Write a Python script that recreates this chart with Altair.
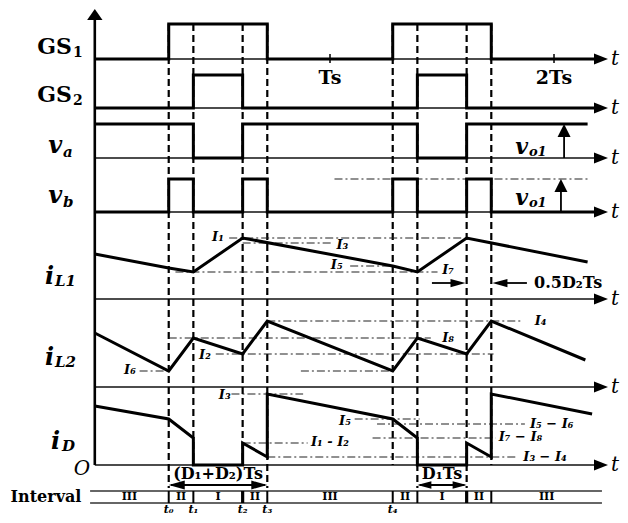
import altair as alt
import pandas as pd

# ---------------- data : time in units of Ts ----------------
T_AXIS = -0.05          # where the drawn vertical axis sits
T_END = 2.2             # end of the drawn waveforms
sw_p1 = [0.28, 0.39, 0.61, 0.72]   # t0 t1 t2 t3
sw_p2 = [1.28, 1.39, 1.61, 1.72]   # t4 ... (second period)

gs1_t = [T_AXIS, 0.28, 0.28, 0.72, 0.72, 1.28, 1.28, 1.72, 1.72, 2.2]
gs1_v = [0, 0, 1, 1, 0, 0, 1, 1, 0, 0]
gs2_t = [T_AXIS, 0.39, 0.39, 0.61, 0.61, 1.39, 1.39, 1.61, 1.61, 2.2]
gs2_v = [0, 0, 1, 1, 0, 0, 1, 1, 0, 0]
va_t = [T_AXIS, 0.39, 0.39, 0.61, 0.61, 1.39, 1.39, 1.61, 1.61, 2.15]
va_v = [1, 1, 0, 0, 1, 1, 0, 0, 1, 1]
vb_t = [T_AXIS, 0.28, 0.28, 0.39, 0.39, 0.61, 0.61, 0.72, 0.72,
        1.28, 1.28, 1.39, 1.39, 1.61, 1.61, 1.72, 1.72, 2.2]
vb_v = [0, 0, 1, 1, 0, 0, 1, 1, 0, 0, 1, 1, 0, 0, 1, 1, 0, 0]
iL1_t = [T_AXIS, 0.28, 0.39, 0.61, 1.28, 1.39, 1.61, 2.15]
iL1_v = [4.5, 3.1, 2.7, 6.1, 3.3, 2.7, 6.1, 3.7]
iL2_t = [T_AXIS, 0.28, 0.39, 0.61, 0.72, 1.28, 1.39, 1.61, 1.72, 2.14]
iL2_v = [5.4, 1.6, 4.9, 3.3, 6.6, 1.6, 4.9, 3.3, 6.6, 2.7]
iD_t = [T_AXIS, 0.28, 0.39, 0.39, 0.61, 0.61, 0.72, 0.72,
        1.28, 1.39, 1.39, 1.61, 1.61, 1.72, 1.72, 2.17]
iD_v = [5.9, 4.6, 2.7, 0, 0, 2.2, 0.8, 7.1, 4.6, 2.7, 0, 0, 2.2, 0.8, 7.1, 5.1]

# dash-dot reference levels: (panel, level, t from, t to)
levels = [
    ("vb", 1.0, 1.02, 2.16),
    ("iL1", 6.1, 0.55, 1.60), ("iL1", 5.6, 0.61, 1.01),
    ("iL1", 3.3, 1.09, 1.28), ("iL1", 2.7, 0.31, 1.48),
    ("iL2", 1.6, 0.15, 0.28), ("iL2", 1.6, 0.87, 1.28),
    ("iL2", 3.3, 0.49, 1.73), ("iL2", 4.9, 0.28, 1.45), ("iL2", 6.6, 0.72, 1.86),
    ("iD", 7.1, 0.56, 0.88), ("iD", 4.6, 1.11, 1.40), ("iD", 4.1, 1.21, 1.87),
    ("iD", 2.2, 0.61, 0.90), ("iD", 2.7, 1.19, 1.74), ("iD", 0.8, 0.72, 1.84),
]
# level labels: (panel, t, level, text)
level_labels = [
    ("iL1", 0.50, 6.2, "I₁"), ("iL1", 1.055, 5.4, "I₃"),
    ("iL1", 1.03, 3.4, "I₅"), ("iL1", 1.527, 2.9, "I₇"),
    ("iL2", 0.107, 1.7, "I₆"), ("iL2", 0.442, 3.2, "I₂"),
    ("iL2", 1.527, 4.9, "I₈"), ("iL2", 1.94, 6.6, "I₄"),
    ("iD", 0.53, 7.0, "I₃"), ("iD", 1.067, 4.4, "I₅"),
    ("iD", 1.0, 2.3, "I₁ - I₂"), ("iD", 1.99, 4.1, "I₅ − I₆"),
    ("iD", 1.85, 2.8, "I₇ − I₈"), ("iD", 1.96, 0.8, "I₃ − I₄"),
]
interval_names = ["III", "II", "I", "II", "III", "II", "I", "II", "III"]
edge_names = ["t₀", "t₁", "t₂", "t₃", "t₄"]

# ---------------- layout (diagram units, y from the top) ----------------
PANELS = {"GS1": (59, 35), "GS2": (108, 33), "va": (158, 34), "vb": (212, 33),
          "iL1": (299, 10), "iL2": (387, 10), "iD": (465, 10)}


def ypos(panel, v):
    base, unit = PANELS[panel]
    return base - unit * v


TOP = ypos("GS1", 1)
BAR_L, BAR_R = -0.071, 2.214
BAR_TOP, BAR_BOT, BAR_MID = 491, 503, 497
EDGE_Y = 515
DIM_Y, DIM_TXT_Y = 485, 474
ARROW_TIP = 2.241
T_LABEL = 2.254

xs = alt.Scale(domain=[-0.4375, 2.2946], nice=False, zero=False)
ys = alt.Scale(domain=[8, 515], reverse=True, nice=False, zero=False)

# ---------------- waveforms ----------------
wave_rows = []
for name, ts, vs in [("GS1", gs1_t, gs1_v), ("GS2", gs2_t, gs2_v), ("va", va_t, va_v),
                     ("vb", vb_t, vb_v), ("iL1", iL1_t, iL1_v), ("iL2", iL2_t, iL2_v),
                     ("iD", iD_t, iD_v)]:
    for k, (t, v) in enumerate(zip(ts, vs)):
        wave_rows.append({"id": name, "ord": k, "t": t, "y": ypos(name, v)})
waves = pd.DataFrame(wave_rows)

# ---------------- rules ----------------
rules = []


def rule(kind, t, t2, y, y2):
    rules.append({"kind": kind, "t": t, "t2": t2, "y": y, "y2": y2})


for p in PANELS:
    rule("axis", T_AXIS, T_END, ypos(p, 0), ypos(p, 0))
rule("yaxis", T_AXIS, T_AXIS, 17, ypos("iD", 0))
for i, t in enumerate(sw_p1):
    rule("dash", t, t, TOP, DIM_Y + 3 if i in (0, 3) else ypos("iD", 0))
for i, t in enumerate(sw_p2):
    rule("dash", t, t, TOP, DIM_Y + 3 if i in (1, 2) else ypos("iD", 0))
for p, v, a, b in levels:
    rule("dashdot", a, b, ypos(p, v), ypos(p, v))
for t in (1.0, 2.0):
    rule("tick", t, t, 54, 63)
rule("bar", BAR_L, BAR_R, BAR_TOP, BAR_TOP)
rule("bar", BAR_L, BAR_R, BAR_BOT, BAR_BOT)
edges = [BAR_L] + sw_p1 + sw_p2 + [BAR_R]
for i, t in enumerate(sw_p1 + sw_p2):
    rule("sep2" if i in (2, 6) else "sep", t, t, BAR_TOP, BAR_BOT)
# vo1 arrows and dimension arrows
rule("aline", 2.045, 2.045, ypos("va", 0), ypos("va", 0.8))
rule("aline", 2.031, 2.031, ypos("vb", 0), ypos("vb", 0.8))
rule("aline", 1.455, 1.57, 283, 283)
rule("aline", 1.76, 1.879, 283, 283)
rule("aline", 0.29, 0.71, DIM_Y, DIM_Y)
rule("aline", 1.40, 1.60, DIM_Y, DIM_Y)
rules = pd.DataFrame(rules)

# ---------------- arrow heads (tip at the data point) ----------------
SHAPES = {
    "right": "M0,0L-2,-0.8L-2,0.8Z",
    "left": "M0,0L2,-0.55L2,0.55Z",
    "rdim": "M0,0L-2,-0.55L-2,0.55Z",
    "up": "M0,0L-1,2L1,2Z",
    "yup": "M0,0L-1.4,2L1.4,2Z",
}
heads = [{"t": ARROW_TIP, "y": ypos(p, 0), "shape": SHAPES["right"], "size": 196} for p in PANELS]
heads += [
    {"t": T_AXIS, "y": 9, "shape": SHAPES["yup"], "size": 121},
    {"t": 2.045, "y": ypos("va", 1), "shape": SHAPES["up"], "size": 169},
    {"t": 2.031, "y": ypos("vb", 1), "shape": SHAPES["up"], "size": 169},
    {"t": 1.605, "y": 283, "shape": SHAPES["rdim"], "size": 225},
    {"t": 1.725, "y": 283, "shape": SHAPES["left"], "size": 225},
    {"t": 0.28, "y": DIM_Y, "shape": SHAPES["left"], "size": 256},
    {"t": 0.72, "y": DIM_Y, "shape": SHAPES["rdim"], "size": 256},
    {"t": 1.39, "y": DIM_Y, "shape": SHAPES["left"], "size": 196},
    {"t": 1.61, "y": DIM_Y, "shape": SHAPES["rdim"], "size": 196},
]
heads = pd.DataFrame(heads)

# ---------------- texts ----------------
texts = []


def txt(t, y, s, size, style="normal", weight="bold", align="center", baseline="middle"):
    texts.append({"t": t, "y": y, "text": s, "size": size, "style": style,
                  "weight": weight, "align": align, "baseline": baseline})


for y, sub in ((47, "1"), (95, "2")):
    txt(-0.152, y, "GS", 22, align="right")
    txt(-0.147, y + 6, sub, 14, align="left")
for y, sub in ((146, "a"), (196, "b")):
    txt(-0.196, y, "v", 24, "italic", align="right")
    txt(-0.192, y + 6, sub, 15, "italic", align="left")
for y, sub in ((277, "L1"), (358, "L2")):
    txt(-0.232, y, "i", 24, "italic", align="right")
    txt(-0.228, y + 4, sub, 15, "italic", align="left")
txt(-0.205, 442, "i", 24, "italic", align="right")
txt(-0.196, 446, "D", 15, "italic", align="left")
txt(-0.107, 469, "O", 20, "italic", "normal")
txt(1.0, 78, "Ts", 19)
txt(2.0, 78, "2Ts", 19)
for y in (147, 198):
    txt(1.884, y, "v", 22, "italic", align="right")
    txt(1.888, y + 5, "o1", 13, "italic", align="left")
for p in PANELS:
    txt(T_LABEL, ypos(p, 0), "t", 20, "italic", "normal", "left")
txt(1.911, 283, "0.5D₂Ts", 16, align="left")
txt(0.5, DIM_TXT_Y, "(D₁+D₂)Ts", 16)
txt(1.5, DIM_TXT_Y, "D₁Ts", 16)
txt(-0.268, BAR_MID, "Interval", 16)
for name, a, b in zip(interval_names, edges[:-1], edges[1:]):
    txt((a + b) / 2, BAR_MID, name, 11)
for name, t in zip(edge_names, sw_p1 + sw_p2[:1]):
    txt(t, EDGE_Y, name, 11, "italic", baseline="bottom")
for p, t, v, s in level_labels:
    txt(t, ypos(p, v), s, 13, "italic")
texts = pd.DataFrame(texts)

# ---------------- layers ----------------
X = alt.X("t:Q", scale=xs, axis=None)
Y = alt.Y("y:Q", scale=ys, axis=None)

layers = []
rule_styles = {
    "axis": dict(strokeWidth=1.3, color="#111"),
    "yaxis": dict(strokeWidth=2.6, color="black"),
    "dash": dict(strokeWidth=2.2, color="black", strokeDash=[7, 4]),
    "dashdot": dict(strokeWidth=1.1, color="#222", strokeDash=[8, 3, 2, 3]),
    "tick": dict(strokeWidth=1.5, color="black"),
    "bar": dict(strokeWidth=1.3, color="#333"),
    "sep": dict(strokeWidth=2, color="black"),
    "sep2": dict(strokeWidth=3.2, color="black"),
    "aline": dict(strokeWidth=1.8, color="black"),
}
for kind, style in rule_styles.items():
    layers.append(alt.Chart(rules[rules.kind == kind]).mark_rule(**style).encode(
        x=X, x2="t2:Q", y=Y, y2="y2:Q"))

layers.append(alt.Chart(waves).mark_line(strokeWidth=3, color="black", strokeJoin="miter").encode(
    x=X, y=Y, detail="id:N", order=alt.Order("ord:Q")))

layers.append(alt.Chart(heads).mark_point(filled=True, opacity=1, color="black", strokeWidth=0).encode(
    x=X, y=Y, shape=alt.Shape("shape:N", scale=None), size=alt.Size("size:Q", scale=None)))

for (style, weight, align, baseline), g in texts.groupby(["style", "weight", "align", "baseline"]):
    layers.append(alt.Chart(g).mark_text(
        font="DejaVu Serif", fontStyle=style, fontWeight=weight, align=align,
        baseline=baseline, color="black").encode(
        x=X, y=Y, text="text:N", size=alt.Size("size:Q", scale=None)))

chart = alt.layer(*layers).properties(
    width=612, height=507, padding=0, autosize="none", background="white"
).configure_view(stroke=None)

chart.save("out.html", embed_options={"renderer": "svg", "actions": False})
